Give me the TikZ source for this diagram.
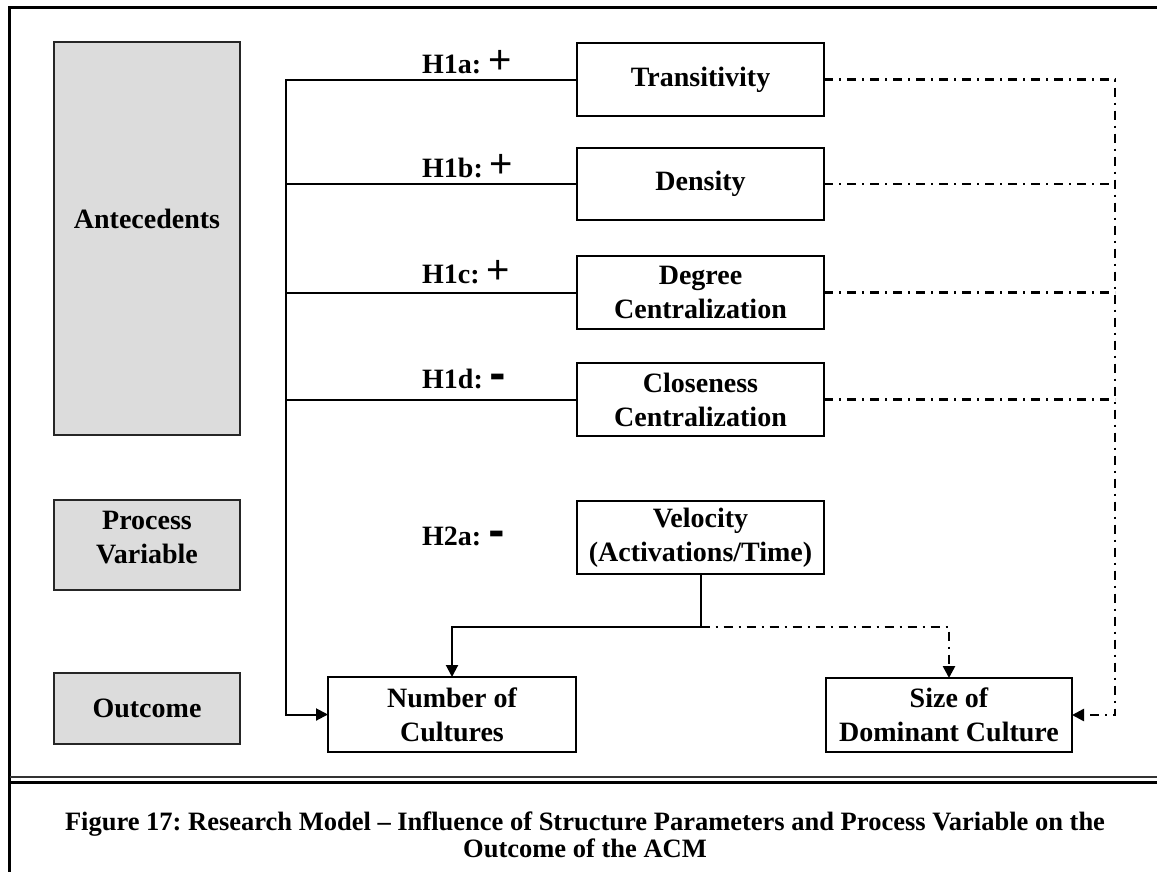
\documentclass[tikz,border=0pt]{standalone}
\usepackage{fontspec}
\setmainfont{Liberation Serif}
\newfontfamily\plusfont{Liberation Sans}
\newfontfamily\minusfont{DejaVu Sans}
\usetikzlibrary{arrows.meta}
\frenchspacing

% sign glyphs used in the hypothesis labels
\newcommand{\plussign}{{\plusfont\mdseries\fontsize{40}{40}\selectfont +}}
\newcommand{\minussign}{{\minusfont\bfseries\fontsize{40}{40}\selectfont -}}

\tikzset{
  lbltext/.style={font=\bfseries\fontsize{28}{34}\selectfont, align=center},
  greybox/.style={draw=black!85, line width=1.5pt, fill={rgb,255:red,220;green,220;blue,220},
    minimum width=186pt, inner sep=0pt, outer sep=0pt},
  varbox/.style={lbltext, draw=black, line width=2pt, fill=white,
    minimum width=247pt, minimum height=73pt, inner sep=0pt, outer sep=0pt},
  hyplabel/.style={font=\bfseries\fontsize{28}{34}\selectfont, inner sep=0pt, anchor=base west},
  solidlink/.style={draw=black, line width=2pt},
  dashlink/.style={draw=black, line width=2.5pt, dash pattern=on 9pt off 6pt on 2pt off 6pt},
  tip/.style={-{Triangle[length=12pt,width=12pt]}},
  captext/.style={font=\bfseries\fontsize{26.5}{30}\selectfont, inner sep=0pt, anchor=base}
}

\begin{document}
\begin{tikzpicture}[x=1pt, y=-1pt]
\useasboundingbox (0,0) rectangle (1157,871);
\fill[white] (0,0) rectangle (1157,871);

% table frame around the figure and its caption
\draw[line width=3pt] (1170,7.5) -- (9.5,7.5) -- (9.5,880);
\draw[line width=1.5pt, black!80] (9.5,777) -- (1170,777);
\draw[line width=2.5pt] (9.5,782.5) -- (1170,782.5);

% category boxes on the left (their text sits a little above centre)
\node[greybox, minimum height=393pt] (ante) at (147,238.5) {};
\node[lbltext] (antetext) at ([yshift=20pt]ante.center) {Antecedents};
\node[greybox, minimum height=90pt] (proc) at (147,545) {};
\node[lbltext] (proctext) at ([yshift=7.5pt]proc.center) {Process\\Variable};
\node[greybox, lbltext, minimum height=71pt] (outc) at (147,708.5) {Outcome};

% structure parameters
\node[varbox] (trans) at (700.5,79.5) {Transitivity};
\node[varbox, minimum height=72pt] (dens) at (700.5,184) {Density};
\node[varbox] (degc) at (700.5,292.5) {Degree\\Centralization};
\node[varbox] (clos) at (700.5,399.5) {Closeness\\Centralization};

% process variable
\node[varbox] (velo) at (700.5,537.5) {Velocity\\(Activations/Time)};

% outcomes
\node[varbox, minimum width=248pt, minimum height=75pt] (numc) at (452,714.5) {Number of\\Cultures};
\node[varbox, minimum width=246pt, minimum height=74pt] (size) at (949,715) {Size of\\Dominant Culture};

% hypothesis labels
\node[hyplabel] (h1a) at (422,73) {H1a: \plussign};
\node[hyplabel] (h1b) at (422,177) {H1b: \plussign};
\node[hyplabel] (h1c) at (422,283) {H1c: \plussign};
\node[hyplabel] (h1d) at (422,388) {H1d: \minussign};
\node[hyplabel] (h2a) at (422,545) {H2a: \minussign};

% solid links into Number of Cultures
\coordinate (spine) at (286,79.5);
\draw[solidlink, tip] (trans.west) -- (spine) -- (spine |- numc.west) -- (numc.west);
\draw[solidlink] (dens.west) -- (dens.west -| spine);
\draw[solidlink] (degc.west) -- (degc.west -| spine);
\draw[solidlink] (clos.west) -- (clos.west -| spine);

\coordinate (junc) at (700.5,627);
\draw[solidlink, tip] (velo.south) -- (junc) -| (numc.north);

% dash-dotted links into Size of Dominant Culture
\coordinate (rail) at (1115,79.5);
\draw[dashlink, tip] (trans.east) -- (rail) -- (rail |- size.east) -- (size.east);
\draw[dashlink] (dens.east) -- (dens.east -| rail);
\draw[dashlink] (degc.east) -- (degc.east -| rail);
\draw[dashlink] (clos.east) -- (clos.east -| rail);
\draw[dashlink, tip] (junc) -| (size.north);

% caption
\node[captext] (cap1) at (585,830) {Figure 17: Research Model -- Influence of Structure Parameters and Process Variable on the};
\node[captext] (cap2) at (585,857) {Outcome of the ACM};
\end{tikzpicture}
\end{document}
